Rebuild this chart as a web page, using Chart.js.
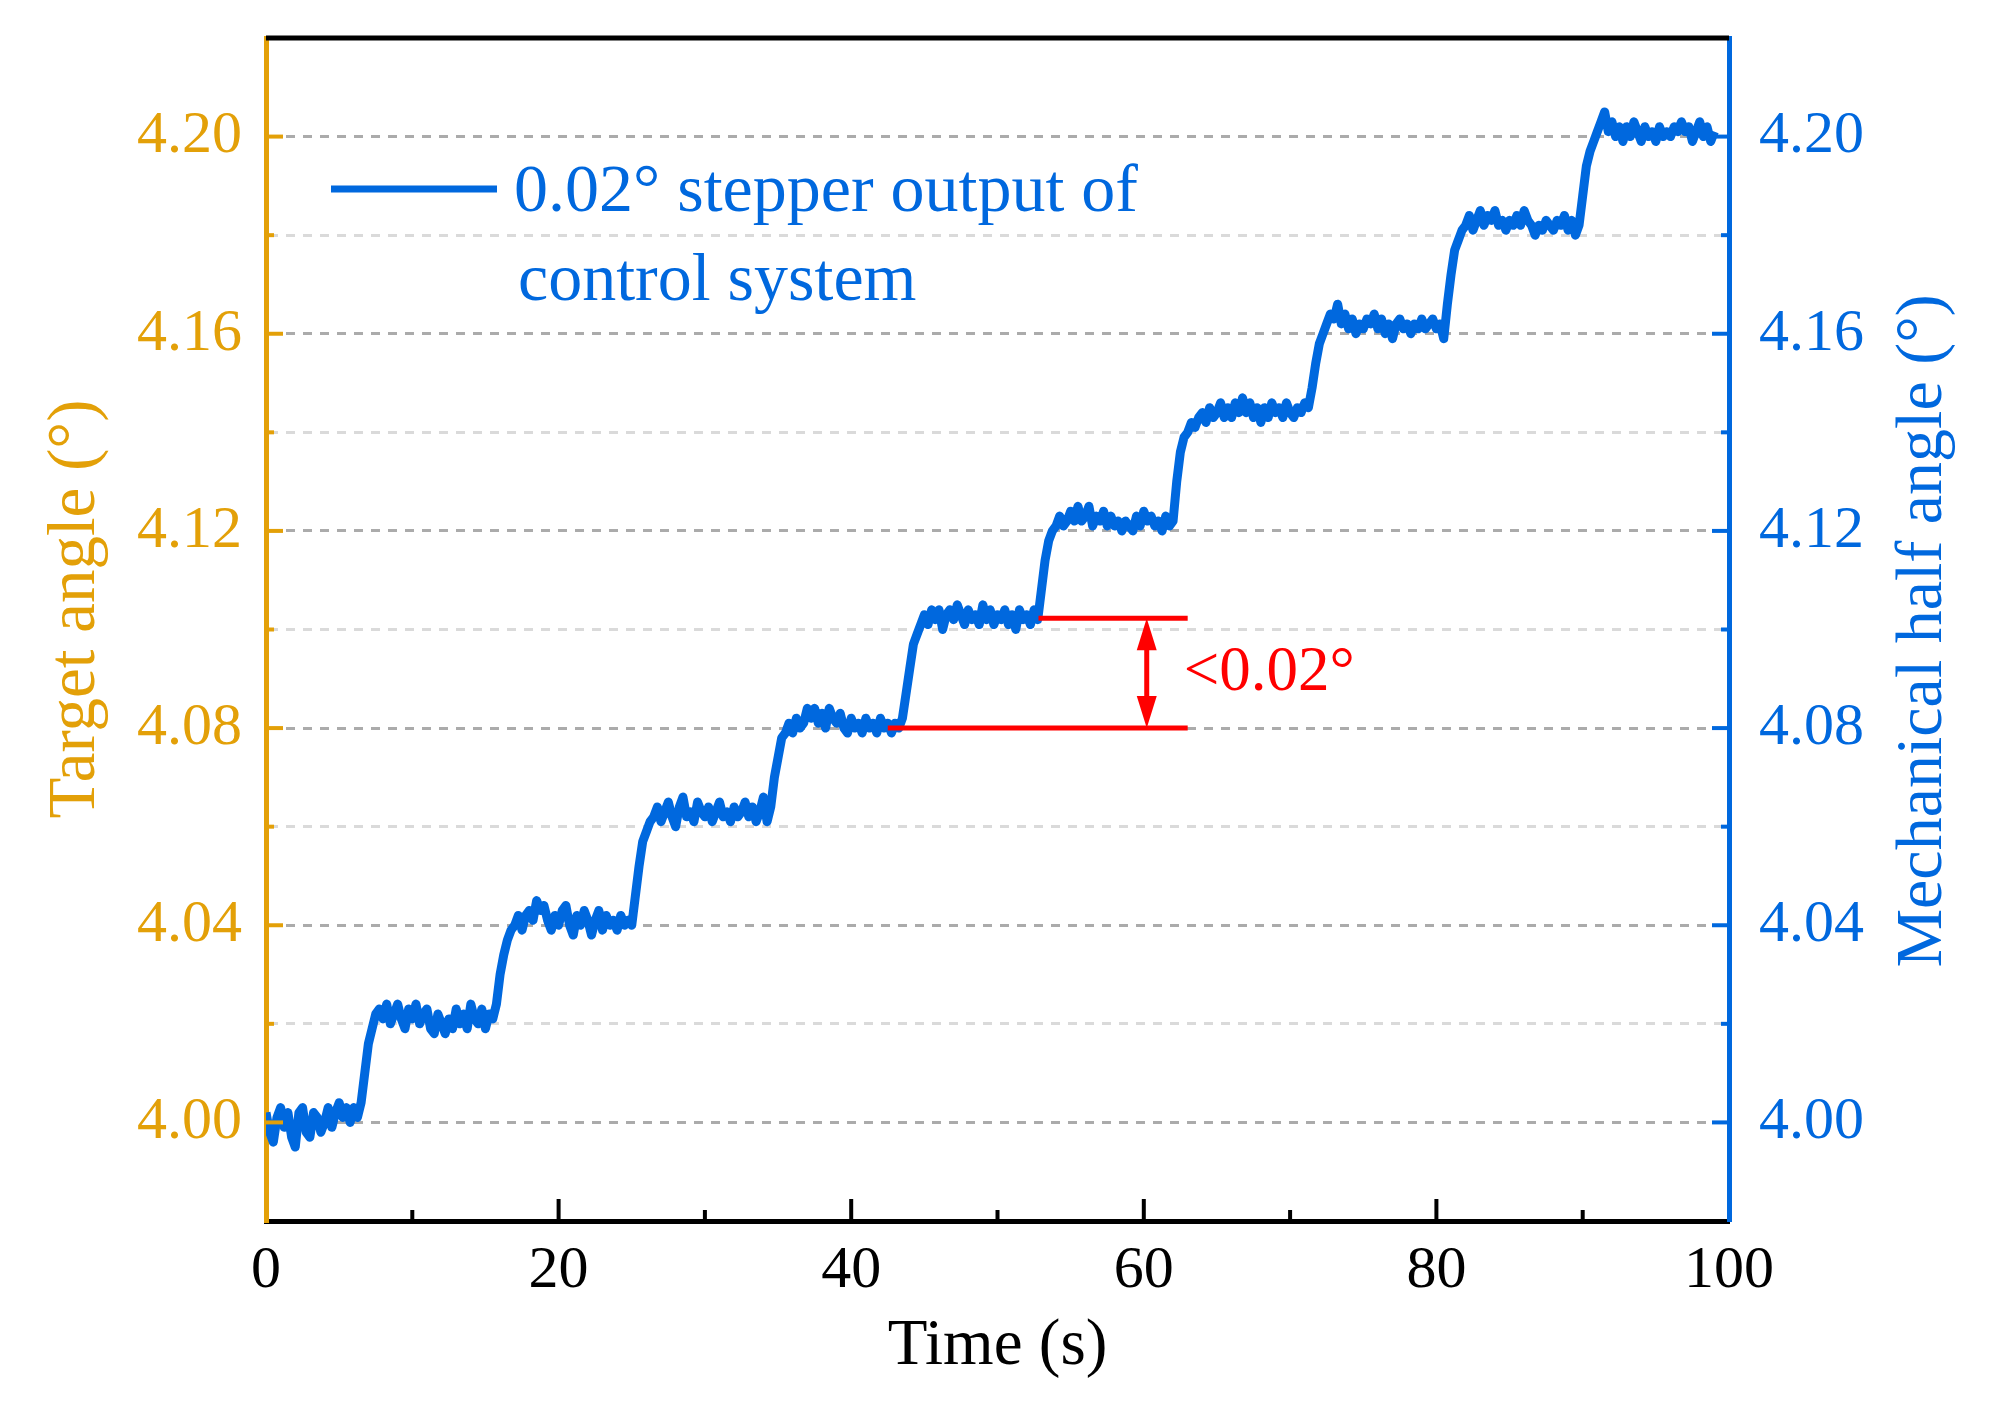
<!DOCTYPE html>
<html>
<head>
<meta charset="utf-8">
<script src="https://cdn.jsdelivr.net/npm/chart.js@4"></script>
<style>
  body { margin: 0; background: #fff; }
  canvas { display: block; }
</style>
</head>
<body>
<canvas id="chart" width="1998" height="1428"></canvas>
<script>
'use strict';

// every quarter second, t = 0 .. 99 s
const sampleStep = 0.25;
const halfAngle = [
  // 0 - 6.5 s
  4.002, 3.998, 3.996, 4.001, 4.003, 3.999, 4.002, 3.997, 3.995, 4.002, 4.003, 3.998, 3.997, 4.002,
  4.001, 3.998, 4.000, 4.003, 3.999, 4.002, 4.004, 4.001, 4.003, 4.000, 4.003, 4.001, 4.004,
  4.010, 4.016, 4.019, 4.022,
  // 7.75 - 15.75 s
  4.023, 4.021, 4.024, 4.020, 4.022, 4.024, 4.021, 4.019, 4.023, 4.021, 4.024, 4.020, 4.022, 4.023,
  4.019, 4.018, 4.022, 4.020, 4.018, 4.021, 4.019, 4.023, 4.020, 4.022, 4.019, 4.024, 4.021, 4.020,
  4.023, 4.019, 4.022, 4.021, 4.024,
  4.030, 4.034, 4.037, 4.039,
  // 17 - 25 s
  4.040, 4.042, 4.039, 4.042, 4.043, 4.041, 4.045, 4.043, 4.044, 4.041, 4.039, 4.042, 4.040, 4.043,
  4.044, 4.040, 4.038, 4.042, 4.040, 4.043, 4.041, 4.038, 4.041, 4.043, 4.039, 4.042, 4.040, 4.041,
  4.039, 4.042, 4.040, 4.041, 4.040,
  4.046, 4.052, 4.057, 4.059, 4.061,
  // 26.5 - 34.5 s
  4.062, 4.064, 4.061, 4.063, 4.065, 4.062, 4.060, 4.064, 4.066, 4.062, 4.063, 4.061, 4.065, 4.063,
  4.062, 4.064, 4.061, 4.063, 4.065, 4.062, 4.063, 4.061, 4.064, 4.062, 4.063, 4.065, 4.062, 4.064,
  4.061, 4.063, 4.066, 4.061, 4.064,
  4.070, 4.074, 4.078, 4.079,
  // 35.75 - 43.5 s
  4.081, 4.079, 4.082, 4.080, 4.081, 4.084, 4.082, 4.084, 4.081, 4.083, 4.080, 4.084, 4.082, 4.081,
  4.083, 4.080, 4.079, 4.082, 4.080, 4.081, 4.079, 4.082, 4.080, 4.081, 4.079, 4.082, 4.080, 4.081,
  4.079, 4.081, 4.080, 4.082,
  4.087, 4.092, 4.097, 4.099, 4.101,
  // 45 - 52.75 s
  4.103, 4.101, 4.104, 4.102, 4.104, 4.100, 4.103, 4.104, 4.102, 4.105, 4.103, 4.101, 4.104, 4.102,
  4.103, 4.101, 4.105, 4.102, 4.104, 4.101, 4.103, 4.102, 4.104, 4.101, 4.103, 4.100, 4.104, 4.102,
  4.103, 4.101, 4.104, 4.102,
  4.108, 4.114, 4.118, 4.120,
  // 54 - 62 s
  4.121, 4.123, 4.121, 4.122, 4.124, 4.122, 4.125, 4.122, 4.123, 4.125, 4.121, 4.123, 4.122, 4.124,
  4.121, 4.123, 4.121, 4.122, 4.120, 4.122, 4.121, 4.120, 4.123, 4.121, 4.124, 4.122, 4.123, 4.121,
  4.122, 4.120, 4.123, 4.121, 4.122,
  4.130, 4.136, 4.139,
  // 63 - 71.25 s
  4.140, 4.142, 4.141, 4.143, 4.144, 4.142, 4.145, 4.143, 4.144, 4.146, 4.143, 4.145, 4.143, 4.146,
  4.144, 4.147, 4.144, 4.146, 4.143, 4.145, 4.142, 4.145, 4.143, 4.146, 4.144, 4.145, 4.143, 4.146,
  4.144, 4.143, 4.145, 4.144, 4.146, 4.145,
  4.149, 4.154, 4.158, 4.160, 4.162,
  // 72.75 - 80.5 s
  4.164, 4.163, 4.166, 4.162, 4.164, 4.161, 4.163, 4.160, 4.162, 4.161, 4.163, 4.162, 4.164, 4.161,
  4.163, 4.160, 4.162, 4.159, 4.162, 4.163, 4.161, 4.162, 4.160, 4.162, 4.161, 4.163, 4.161, 4.162,
  4.163, 4.161, 4.162, 4.159,
  4.166, 4.172, 4.177, 4.179, 4.181,
  // 82 - 89.75 s
  4.182, 4.184, 4.181, 4.183, 4.185, 4.182, 4.184, 4.183, 4.185, 4.182, 4.183, 4.181, 4.183, 4.182,
  4.184, 4.182, 4.185, 4.183, 4.182, 4.180, 4.182, 4.181, 4.183, 4.182, 4.181, 4.183, 4.182, 4.184,
  4.181, 4.183, 4.180, 4.182,
  4.188, 4.194, 4.197, 4.199,
  // 91 - 99 s
  4.201, 4.203, 4.205, 4.201, 4.203, 4.200, 4.202, 4.199, 4.202, 4.200, 4.203, 4.201, 4.199, 4.202,
  4.200, 4.201, 4.199, 4.202, 4.200, 4.201, 4.200, 4.202, 4.201, 4.203, 4.201, 4.202, 4.199, 4.201,
  4.203, 4.200, 4.202, 4.199, 4.201
];

const xTickLabels = [0, 20, 40, 60, 80, 100];
const yTickLabels = [4.00, 4.04, 4.08, 4.12, 4.16, 4.20];
const yTitleLeft = 'Target angle (°)';
const yTitleRight = 'Mechanical half angle (°)';

// the red "<0.02°" marker: two levels, where they start/end, arrow position
const markLevels = [4.08, 4.1023];
const markStarts = [42.5, 52.8];
const markEnd = 63.0;
const markArrowAt = 60.2;
const markText = '<0.02°';

const orange = '#E3A008';
const blue = '#0068DE';
const red = '#FF0000';
const serif = '"Liberation Serif", "DejaVu Serif", serif';

const points = halfAngle.map((v, i) => ({ x: i * sampleStep, y: v }));

function isMajorY(v) {
  return yTickLabels.some(t => Math.abs(t - v) < 1e-6);
}

function noEdgePadding(s) {
  s.paddingTop = 0;
  s.paddingBottom = 0;
}

const extras = {
  id: 'extras',
  afterDraw(chart) {
    const ctx = chart.ctx;
    const area = chart.chartArea;
    const xs = chart.scales.x;
    const ys = chart.scales.y;
    const ys2 = chart.scales.y2;
    ctx.save();

    // top frame
    ctx.strokeStyle = '#000';
    ctx.lineWidth = 5;
    ctx.beginPath();
    ctx.moveTo(area.left, area.top);
    ctx.lineTo(area.right, area.top);
    ctx.stroke();

    // inward ticks on bottom axis
    ctx.lineWidth = 4;
    for (let t = 10; t < 100; t += 10) {
      const px = xs.getPixelForValue(t);
      const len = t % 20 === 0 ? 22 : 11;
      ctx.beginPath();
      ctx.moveTo(px, area.bottom);
      ctx.lineTo(px, area.bottom - len);
      ctx.stroke();
    }

    // inward ticks on left and right axes
    ys.ticks.forEach(tk => {
      if (tk.value <= ys.min + 1e-6 || tk.value >= ys.max - 1e-6) return;
      const py = ys.getPixelForValue(tk.value);
      const len = isMajorY(tk.value) ? 17 : 8;
      ctx.lineWidth = 4;
      ctx.strokeStyle = orange;
      ctx.beginPath();
      ctx.moveTo(area.left, py);
      ctx.lineTo(area.left + len, py);
      ctx.stroke();
      ctx.strokeStyle = blue;
      ctx.beginPath();
      ctx.moveTo(area.right, py);
      ctx.lineTo(area.right - len, py);
      ctx.stroke();
    });

    // axis titles, both reading bottom to top
    ctx.textAlign = 'center';
    ctx.textBaseline = 'middle';
    [[yTitleLeft, orange, 76, 609, 67], [yTitleRight, blue, 1924, 631, 66]].forEach(([txt, col, x, y, size]) => {
      ctx.save();
      ctx.translate(x, y);
      ctx.rotate(-Math.PI / 2);
      ctx.fillStyle = col;
      ctx.font = size + 'px ' + serif;
      ctx.fillText(txt, 0, 0);
      ctx.restore();
    });

    // legend
    const ds = chart.data.datasets[0];
    ctx.strokeStyle = ds.borderColor;
    ctx.lineWidth = 7;
    ctx.beginPath();
    ctx.moveTo(331, 189);
    ctx.lineTo(497, 189);
    ctx.stroke();
    ctx.fillStyle = ds.borderColor;
    ctx.font = '68px ' + serif;
    ctx.textBaseline = 'middle';
    ctx.textAlign = 'left';
    ds.label.forEach((line, i) => {
      ctx.fillText(line, 514 + i * 4, 193 + i * 89);
    });

    // red step marker
    ctx.strokeStyle = red;
    ctx.fillStyle = red;
    ctx.lineWidth = 5;
    const xe = xs.getPixelForValue(markEnd);
    markLevels.forEach((lv, i) => {
      const py = ys2.getPixelForValue(lv);
      ctx.beginPath();
      ctx.moveTo(xs.getPixelForValue(markStarts[i]), py);
      ctx.lineTo(xe, py);
      ctx.stroke();
    });
    const ax = xs.getPixelForValue(markArrowAt);
    const yLo = ys2.getPixelForValue(markLevels[0]);
    const yHi = ys2.getPixelForValue(markLevels[1]);
    ctx.beginPath();
    ctx.moveTo(ax, yHi + 20);
    ctx.lineTo(ax, yLo - 20);
    ctx.stroke();
    [[yHi, 1], [yLo, -1]].forEach(([y0, dir]) => {
      ctx.beginPath();
      ctx.moveTo(ax, y0);
      ctx.lineTo(ax - 10, y0 + dir * 32);
      ctx.lineTo(ax + 10, y0 + dir * 32);
      ctx.closePath();
      ctx.fill();
    });
    ctx.font = '63px ' + serif;
    ctx.textBaseline = 'middle';
    ctx.fillText(markText, xe - 4, (yLo + yHi) / 2);

    ctx.restore();
  }
};

new Chart(document.getElementById('chart'), {
  type: 'line',
  data: {
    datasets: [{
      label: ['0.02° stepper output of', 'control system'],
      data: points,
      borderColor: blue,
      borderWidth: 9,
      borderJoinStyle: 'round',
      pointRadius: 0,
      tension: 0,
      xAxisID: 'x',
      yAxisID: 'y2'
    }]
  },
  options: {
    responsive: false,
    animation: false,
    layout: { padding: { top: 38, left: 0, right: 0, bottom: 0 } },
    plugins: { legend: { display: false }, tooltip: { enabled: false } },
    scales: {
      x: {
        type: 'linear',
        position: 'bottom',
        min: 0,
        max: 100,
        afterBuildTicks: s => { s.ticks = xTickLabels.map(v => ({ value: v })); },
        afterFit: s => { s.height = 207; s.paddingLeft = 0; s.paddingRight = 0; },
        grid: { display: false, drawTicks: false },
        border: { color: '#000', width: 5 },
        ticks: {
          color: '#000',
          font: { family: serif, size: 60 },
          padding: 14,
          maxRotation: 0,
          autoSkip: false
        },
        title: {
          display: true,
          text: 'Time (s)',
          color: '#000',
          font: { family: serif, size: 65 },
          padding: { top: 0, bottom: 42 }
        }
      },
      y: {
        position: 'left',
        min: 3.98,
        max: 4.22,
        afterBuildTicks: s => {
          const out = [];
          for (let k = 0; k <= 12; k++) out.push({ value: Math.round((3.98 + k * 0.02) * 100) / 100 });
          s.ticks = out;
        },
        afterFit: s => { s.width = 266; noEdgePadding(s); },
        grid: {
          drawTicks: false,
          lineWidth: 3,
          color: c => {
            const v = c.tick.value;
            if (v <= 3.98 + 1e-6 || v >= 4.22 - 1e-6) return 'rgba(0,0,0,0)';
            return isMajorY(v) ? '#ABABAB' : '#DADADA';
          }
        },
        border: { color: orange, width: 5, dash: [9, 8] },
        ticks: {
          color: orange,
          font: { family: serif, size: 60 },
          padding: 24,
          callback: v => isMajorY(v) ? v.toFixed(2) : ''
        }
      },
      y2: {
        position: 'right',
        min: 3.98,
        max: 4.22,
        afterBuildTicks: s => {
          s.ticks = yTickLabels.map(v => ({ value: v }));
        },
        afterFit: s => { s.width = 269; noEdgePadding(s); },
        grid: { display: false, drawTicks: false },
        border: { color: blue, width: 5 },
        ticks: {
          color: blue,
          font: { family: serif, size: 60 },
          padding: 30,
          callback: v => v.toFixed(2)
        }
      }
    }
  },
  plugins: [extras]
});
</script>
</body>
</html>
